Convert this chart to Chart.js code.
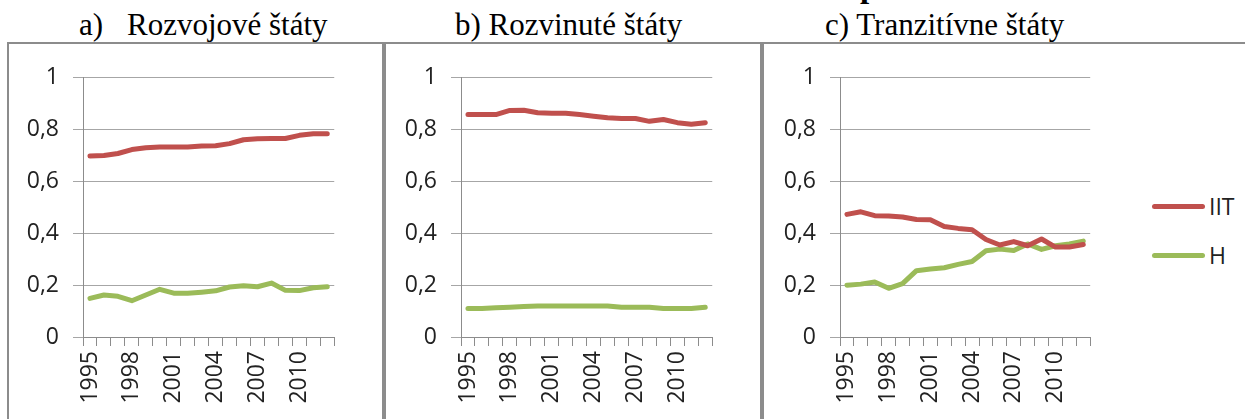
<!DOCTYPE html>
<html lang="sk">
<head>
<meta charset="utf-8">
<title>IIT a H</title>
<script src="https://cdn.jsdelivr.net/npm/chart.js@4.4.1/dist/chart.umd.min.js"></script>
<style>
  body { margin: 0; width: 1245px; height: 419px; overflow: hidden; background: #fff; position: relative; }
  .panel { position: absolute; top: 42px; height: 420px; border: 2px solid #8c8c8c; border-bottom: none; box-sizing: border-box; }
  .title { position: absolute; top: 9px; font-family: "Liberation Serif", "Times New Roman", serif; font-size: 31px; line-height: 31px; color: #000; white-space: pre; }
  .head { position: absolute; top: -30px; left: 860px; font-family: "Liberation Serif", serif; font-weight: bold; font-size: 33px; line-height: 33px; }
  canvas { position: absolute; top: 50px; }
  .legend { position: absolute; left: 1152px; font-family: "Open Sans", sans-serif; font-size: 23px; color: #222; }
  .legend div { position: relative; height: 30px; }
  .legend span.line { position: absolute; left: 0; top: 12px; width: 53px; height: 5px; border-radius: 3px; }
  .legend span.txt { position: absolute; left: 57px; top: -1px; line-height: 30px; }
</style>
</head>
<body>

<div class="head">p</div>

<div class="panel" style="left:7px; width:377px;"></div>
<div class="panel" style="left:384px; width:378px;"></div>
<div class="panel" style="left:762px; width:500px; border-right:none;"></div>

<div class="title" style="left:79px;">a)</div>
<div class="title" style="left:127px;">Rozvojové štáty</div>
<div class="title" style="left:455px;">b) Rozvinuté štáty</div>
<div class="title" style="left:825px;">c) Tranzitívne štáty</div>

<canvas id="chartA" width="350" height="369" style="left:10px;"></canvas>
<canvas id="chartB" width="350" height="369" style="left:388px;"></canvas>
<canvas id="chartC" width="349" height="369" style="left:767px;"></canvas>

<div class="legend" id="legend" style="top:192px;"></div>

<script>
// roky
const years = ['1995', '1996', '1997', '1998', '1999', '2000', '2001', '2002', '2003',
  '2004', '2005', '2006', '2007', '2008', '2009', '2010', '2011', '2012'];

// a) rozvojové štáty
const rozvojoveIIT = [0.698, 0.700, 0.708, 0.723, 0.730, 0.733, 0.733, 0.733, 0.737,
  0.738, 0.746, 0.761, 0.765, 0.766, 0.766, 0.778, 0.784, 0.784];
const rozvojoveH = [0.149, 0.162, 0.157, 0.140, 0.162, 0.184, 0.169, 0.169, 0.173,
  0.178, 0.193, 0.198, 0.194, 0.208, 0.180, 0.179, 0.190, 0.194];

// b) rozvinuté štáty
const rozvinuteIIT = [0.858, 0.858, 0.858, 0.874, 0.875, 0.865, 0.863, 0.863, 0.858,
  0.852, 0.846, 0.843, 0.843, 0.832, 0.839, 0.827, 0.821, 0.827];
const rozvinuteH = [0.110, 0.110, 0.113, 0.115, 0.118, 0.120, 0.120, 0.120, 0.120,
  0.120, 0.120, 0.115, 0.115, 0.115, 0.110, 0.110, 0.110, 0.115];

// c) tranzitívne štáty
const tranzitivneIIT = [0.473, 0.483, 0.468, 0.467, 0.463, 0.453, 0.452, 0.426, 0.419,
  0.414, 0.376, 0.355, 0.368, 0.352, 0.378, 0.347, 0.347, 0.357];
const tranzitivneH = [0.200, 0.204, 0.212, 0.188, 0.206, 0.256, 0.262, 0.267, 0.280,
  0.291, 0.333, 0.339, 0.334, 0.359, 0.338, 0.352, 0.359, 0.370];

const yTicks = [0, 0.2, 0.4, 0.6, 0.8, 1];
const seriesNames = ['IIT', 'H'];
const seriesColors = ['#c0504d', '#9bbb59'];

const tickFont = { family: 'Open Sans', size: 23 };

function makeChart(id, iit, h) {
  const series = [iit, h];
  return new Chart(document.getElementById(id), {
    type: 'line',
    data: {
      labels: years,
      datasets: series.map((d, i) => ({
        label: seriesNames[i],
        data: d,
        borderColor: seriesColors[i],
        backgroundColor: seriesColors[i],
        borderWidth: 5,
        borderCapStyle: 'round',
        borderJoinStyle: 'round',
        pointRadius: 0,
        tension: 0
      }))
    },
    options: {
      responsive: false,
      animation: false,
      layout: { padding: { top: 23, right: 5, left: 0, bottom: 0 } },
      plugins: { legend: { display: false }, tooltip: { enabled: false } },
      scales: {
        x: {
          offset: true,
          grid: { offset: true, drawOnChartArea: false, tickLength: 9, color: '#8c8c8c' },
          border: { color: '#8c8c8c' },
          ticks: {
            autoSkip: false, minRotation: 90, maxRotation: 90, padding: 5,
            font: tickFont, color: '#222',
            callback: (v, i) => (i % 3 === 0 ? years[i] : '')
          },
          afterFit: s => { s.height = 82; }
        },
        y: {
          min: 0, max: 1,
          afterBuildTicks: s => { s.ticks = yTicks.map(v => ({ value: v })); },
          grid: { color: '#a6a6a6', tickLength: 10 },
          border: { color: '#8c8c8c' },
          ticks: {
            padding: 14, font: tickFont, color: '#222',
            callback: v => String(Math.round(v * 10) / 10).replace('.', ',')
          },
          afterFit: s => { s.width = 73; }
        }
      }
    }
  });
}

makeChart('chartA', rozvojoveIIT, rozvojoveH);
makeChart('chartB', rozvinuteIIT, rozvinuteH);
const chartC = makeChart('chartC', tranzitivneIIT, tranzitivneH);

// legenda pre graf c)
const legend = document.getElementById('legend');
chartC.data.datasets.forEach((ds, i) => {
  const row = document.createElement('div');
  row.style.marginBottom = i === 0 ? '19px' : '0';
  row.innerHTML = '<span class="line" style="background:' + ds.borderColor + '"></span>' +
    '<span class="txt">' + ds.label + '</span>';
  legend.appendChild(row);
});
</script>
</body>
</html>
